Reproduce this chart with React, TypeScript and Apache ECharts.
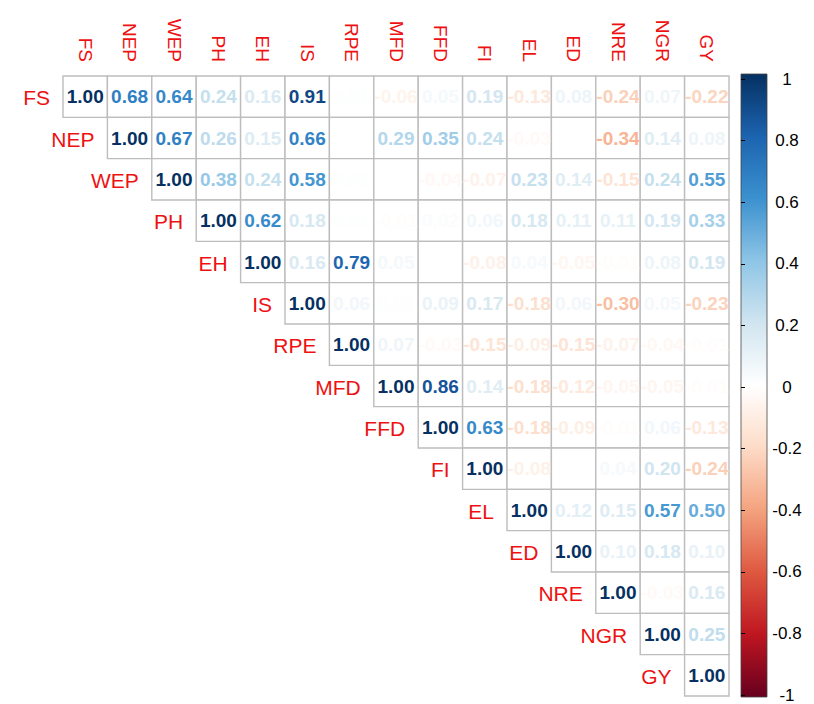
import React, { useEffect, useRef } from "react";
import * as echarts from "echarts";

const variables = ["FS", "NEP", "WEP", "PH", "EH", "IS", "RPE", "MFD", "FFD", "FI", "EL", "ED", "NRE", "NGR", "GY"];

// Upper-triangle correlation rows, each starting at its diagonal cell
const rowFS = [1.0, 0.68, 0.64, 0.24, 0.16, 0.91, 0.01, -0.06, 0.05, 0.19, -0.13, 0.08, -0.24, 0.07, -0.22];
const rowNEP = [1.0, 0.67, 0.26, 0.15, 0.66, 0.0, 0.29, 0.35, 0.24, -0.03, 0.0, -0.34, 0.14, 0.08];
const rowWEP = [1.0, 0.38, 0.24, 0.58, 0.01, 0.0, -0.04, -0.07, 0.23, 0.14, -0.15, 0.24, 0.55];
const rowPH = [1.0, 0.62, 0.18, 0.01, -0.01, 0.02, 0.06, 0.18, 0.11, 0.11, 0.19, 0.33];
const rowEH = [1.0, 0.16, 0.79, 0.05, 0.0, -0.08, 0.04, -0.05, -0.01, 0.08, 0.19];
const rowIS = [1.0, 0.06, 0.01, 0.09, 0.17, -0.18, 0.06, -0.3, 0.05, -0.23];
const rowRPE = [1.0, 0.07, -0.03, -0.15, -0.09, -0.15, -0.07, -0.04, -0.01];
const rowMFD = [1.0, 0.86, 0.14, -0.18, -0.12, -0.05, -0.05, -0.01];
const rowFFD = [1.0, 0.63, -0.18, -0.09, -0.01, 0.06, -0.13];
const rowFI = [1.0, -0.08, 0.0, 0.04, 0.2, -0.24];
const rowEL = [1.0, 0.12, 0.15, 0.57, 0.5];
const rowED = [1.0, 0.1, 0.18, 0.1];
const rowNRE = [1.0, -0.03, 0.16];
const rowNGR = [1.0, 0.25];
const rowGY = [1.0];

const corrRows = [rowFS, rowNEP, rowWEP, rowPH, rowEH, rowIS, rowRPE, rowMFD, rowFFD, rowFI, rowEL, rowED, rowNRE, rowNGR, rowGY];

// RdBu-like palette (from -1 to 1)
const palette = ["#67001F", "#BE1620", "#DE5840", "#F4A27E", "#FDDBC7", "#FFFFFF", "#D1E5F0", "#8EC5E6", "#3B91CF", "#1C64B0", "#053061"];

function hexToRgb(h: string) {
  const n = parseInt(h.slice(1), 16);
  return [(n >> 16) & 255, (n >> 8) & 255, n & 255];
}

function colorFor(v: number) {
  const t = ((Math.max(-1, Math.min(1, v)) + 1) / 2) * (palette.length - 1);
  const i = Math.min(palette.length - 2, Math.floor(t));
  const f = t - i;
  const a = hexToRgb(palette[i]);
  const b = hexToRgb(palette[i + 1]);
  const c = a.map((x, k) => Math.round(x + (b[k] - x) * f));
  return `rgb(${c[0]},${c[1]},${c[2]})`;
}

const GRID_LEFT = 63;
const GRID_TOP = 76;
const GRID_W = 666;
const GRID_H = 620;

export default function App() {
  const ref = useRef<HTMLDivElement>(null);
  useEffect(() => {
    if (!ref.current) return;
    const chart = echarts.init(ref.current, undefined, { renderer: "svg" });
    const cells: number[][] = [];
    corrRows.forEach((row, i) => row.forEach((v, k) => cells.push([i + k, i, v])));
    const diag = variables.map((_, i) => [i, i]);
    const font = '"Liberation Sans", Arial, sans-serif';

    chart.setOption({
      animation: false,
      backgroundColor: "#fff",
      grid: [
        { left: GRID_LEFT, top: GRID_TOP, width: GRID_W, height: GRID_H },
        { left: 741, top: 79, width: 26, height: 616 },
      ],
      xAxis: [
        {
          type: "category",
          gridIndex: 0,
          data: variables,
          position: "top",
          axisLine: { show: false },
          axisTick: { show: false },
          splitLine: { show: false },
          axisLabel: { rotate: 90, color: "#ee1111", fontSize: 19, fontFamily: font, margin: 14, interval: 0 },
        },
        { type: "value", gridIndex: 1, show: false, min: 0, max: 1 },
      ],
      yAxis: [
        { type: "category", gridIndex: 0, data: variables, inverse: true, show: false },
        {
          type: "value",
          gridIndex: 1,
          position: "right",
          min: -1,
          max: 1,
          interval: 0.2,
          axisLine: { show: false },
          axisTick: { show: true, length: 4, lineStyle: { color: "#000" } },
          splitLine: { show: false },
          axisLabel: {
            color: "#000",
            fontSize: 17,
            fontFamily: font,
            align: "center",
            margin: 20,
            formatter: (v: number) => String(Math.round(v * 10) / 10),
          },
        },
      ],
      graphic: [
        {
          type: "rect",
          x: 741,
          y: 74,
          shape: { x: 0, y: 0, width: 26, height: 623 },
          style: {
            fill: new echarts.graphic.LinearGradient(
              0, 0, 0, 1,
              palette.slice().reverse().map((c, k) => ({ offset: k / (palette.length - 1), color: c }))
            ),
            stroke: "#444",
            lineWidth: 0.8,
          },
          z: -1,
        },
      ],
      series: [
        {
          type: "custom",
          xAxisIndex: 0,
          yAxisIndex: 0,
          data: cells,
          renderItem: (params: any, api: any) => {
            const c = api.coord([api.value(0), api.value(1)]);
            const s = api.size([1, 1]);
            return {
              type: "rect",
              shape: { x: c[0] - s[0] / 2, y: c[1] - s[1] / 2, width: s[0], height: s[1] },
              style: { fill: "#fff", stroke: "#bdbdbd", lineWidth: 1.4 },
            };
          },
        },
        {
          type: "custom",
          xAxisIndex: 0,
          yAxisIndex: 0,
          data: cells,
          z: 3,
          renderItem: (params: any, api: any) => {
            const c = api.coord([api.value(0), api.value(1)]);
            const v = api.value(2) as number;
            return {
              type: "text",
              x: c[0],
              y: c[1],
              style: {
                text: v.toFixed(2),
                fill: colorFor(v),
                font: `bold 19px ${font}`,
                align: "center",
                verticalAlign: "middle",
              },
            };
          },
        },
        {
          type: "custom",
          xAxisIndex: 0,
          yAxisIndex: 0,
          data: diag,
          z: 3,
          renderItem: (params: any, api: any) => {
            const i = api.value(0);
            const c = api.coord([i, api.value(1)]);
            const s = api.size([1, 1]);
            return {
              type: "text",
              x: c[0] - s[0] / 2 - 13,
              y: c[1] + 1,
              style: {
                text: variables[i],
                fill: "#ee1111",
                font: `21px ${font}`,
                align: "right",
                verticalAlign: "middle",
              },
            };
          },
        },
      ],
    });
    return () => chart.dispose();
  }, []);
  return <div ref={ref} style={{ position: "absolute", left: 0, top: 0, width: 814, height: 704 }} />;
}
